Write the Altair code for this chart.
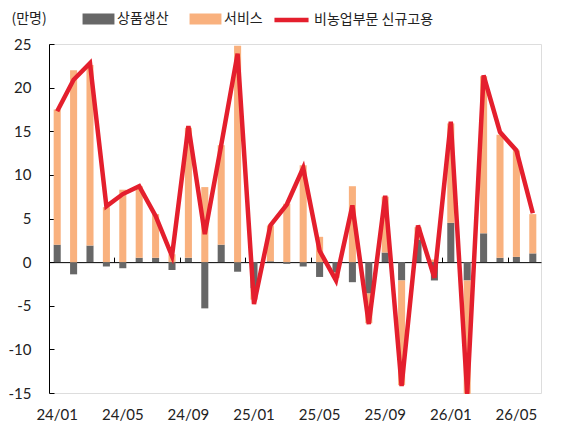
import altair as alt
import pandas as pd

months = ["24/01","24/02","24/03","24/04","24/05","24/06","24/07","24/08","24/09","24/10","24/11","24/12",
          "25/01","25/02","25/03","25/04","25/05","25/06","25/07","25/08","25/09","25/10","25/11","25/12",
          "26/01","26/02","26/03","26/04","26/05","26/06"]
goods = [2.0, -1.4, 1.9, -0.5, -0.7, 0.5, 0.5, -0.9, 0.5, -5.3, 2.0, -1.1, -3.0, 0.1, -0.2,
         -0.5, -1.7, -1.2, -2.3, -3.6, 1.1, -2.1, 2.6, -2.1, 4.5, -2.1, 3.3, 0.5, 0.6, 1.0]
services = [15.5, 22.0, 20.7, 6.3, 8.3, 8.2, 5.0, 0.9, 14.9, 8.6, 11.4, 24.8, -1.3, 4.1, 6.7,
            11.1, 2.9, -0.6, 8.7, -3.4, 6.4, -12.0, 1.4, 0.3, 11.4, -13.0, 18.0, 14.1, 12.2, 4.5]
total = [17.3, 20.9, 22.8, 6.4, 7.8, 8.7, 5.3, 0.7, 15.6, 3.2, 13.4, 23.9, -4.8, 4.2, 6.6,
         10.8, 1.3, -2.1, 6.5, -7.1, 7.6, -14.2, 4.2, -1.8, 16.1, -15.1, 21.4, 14.9, 12.8, 5.6]
tick_months = months[::4]
y_ticks = [-15, -10, -5, 0, 5, 10, 15, 20, 25]

GOODS, SERV, TOTAL = "상품생산", "서비스", "비농업부문 신규고용"
C_GOODS, C_SERV, C_RED = "#676767", "#F9B17E", "#E41F2D"

bars = pd.DataFrame({
    "month": months * 2,
    "series": [GOODS] * len(months) + [SERV] * len(months),
    "ord": [0] * len(months) + [1] * len(months),
    "value": goods + services,
})
line = pd.DataFrame({"month": months, "value": total, "name": TOTAL})

W, H = 492, 349
NUM_FONT = "Lato"
KR_FONT = "Noto Sans CJK KR"

xscale = alt.Scale(domain=months, paddingInner=0, paddingOuter=0)
yscale = alt.Scale(domain=[-15, 25], nice=False, zero=False)

bar_layer = alt.Chart(bars).mark_bar(width=alt.RelativeBandSize(0.43)).encode(
    x=alt.X("month:N", scale=xscale, sort=months,
            axis=alt.Axis(orient="bottom", values=tick_months, title=None, labelAngle=0,
                          domain=False, ticks=False, tickSize=0, labelPadding=14,
                          labelFont=NUM_FONT, labelFontSize=15, labelColor="#222222")),
    y=alt.Y("value:Q", scale=yscale, stack="zero",
            axis=alt.Axis(orient="left", values=y_ticks, ticks=False, tickSize=0, labelPadding=18,
                          labelExpr="datum.value < 0 ? '-' + abs(datum.value) : '' + datum.value",
                          domainColor="#000000", domainWidth=1, grid=False,
                          labelFont=NUM_FONT, labelFontSize=15, labelColor="#222222",
                          title="(만명)", titleAngle=0, titleX=-38, titleY=-26,
                          titleAlign="left", titleBaseline="middle", titleFont=KR_FONT,
                          titleFontSize=14, titleFontWeight="normal", titleColor="#222222")),
    color=alt.Color("series:N", scale=alt.Scale(domain=[GOODS, SERV], range=[C_GOODS, C_SERV]),
                    legend=alt.Legend(orient="none", legendX=42.5, legendY=-32, direction="horizontal",
                                      title=None, symbolType="M-2.9,-1H2.9V1H-2.9Z", symbolSize=121,
                                      symbolStrokeWidth=0, labelFont=KR_FONT, labelFontSize=14,
                                      labelColor="#222222", labelOffset=11.5, columnPadding=20,
                                      padding=0)),
    order=alt.Order("ord:Q", sort="ascending"),
)

line_layer = alt.Chart(line).mark_line(strokeWidth=4.5, strokeJoin="miter").encode(
    x=alt.X("month:N", scale=xscale, sort=months,
            axis=alt.Axis(orient="top", values=tick_months, title=None, labels=False,
                          offset=-H * 25 / 40, bandPosition=0, tickSize=5, tickColor="#000000",
                          domainColor="#000000", domainWidth=1)),
    y=alt.Y("value:Q", scale=yscale,
            axis=alt.Axis(orient="right", values=y_ticks, title=None, labels=False, domain=False,
                          offset=-W, tickSize=5, tickColor="#000000", grid=False)),
    stroke=alt.Stroke("name:N", scale=alt.Scale(domain=[TOTAL], range=[C_RED]),
                      legend=alt.Legend(orient="none", legendX=234.5, legendY=-32, title=None,
                                        symbolType="M-3.1,0H3.1", symbolSize=121, symbolStrokeWidth=4.5,
                                        labelFont=KR_FONT, labelFontSize=14, labelColor="#222222",
                                        labelOffset=14.5, padding=0)),
)

chart = alt.layer(bar_layer, line_layer).resolve_scale(
    x="shared", y="shared"
).resolve_axis(
    x="independent", y="independent"
).resolve_legend(
    color="independent", stroke="independent"
).properties(
    width=W, height=H,
    autosize=alt.AutoSizeParams(type="none"),
    padding={"left": 41, "top": 36, "right": 12, "bottom": 33},
).configure_view(stroke=None).configure(background="white")

chart.save("out.html", embed_options={"renderer": "svg", "actions": False})
